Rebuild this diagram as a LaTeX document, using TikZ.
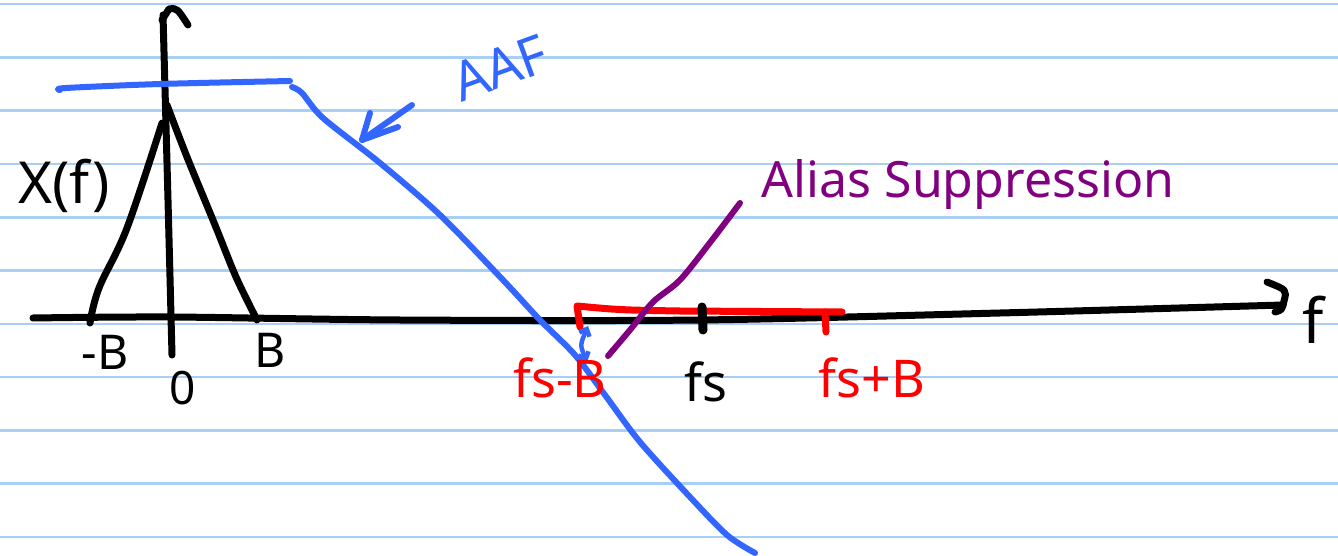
\documentclass[tikz,border=0pt]{standalone}
\usepackage{fontspec}
\setmainfont{Noto Sans}
\usetikzlibrary{arrows.meta}
\definecolor{paper}{HTML}{A9CFF4}
\definecolor{penblue}{HTML}{3366FF}
\definecolor{penred}{HTML}{FF0000}
\definecolor{penpurple}{HTML}{800080}
\tikzset{
  ink/.style={line width=7pt, line cap=round, line join=round},
  bluepen/.style={ink, draw=penblue, line width=6pt},
  redpen/.style={ink, draw=penred},
  purplepen/.style={ink, draw=penpurple, line width=6pt},
  rule/.style={draw=paper, line width=2.6pt},
  hand/.style={inner sep=0pt, font=\fontsize{#1}{#1}\selectfont},
}
\begin{document}
\begin{tikzpicture}[x=1pt,y=-1pt]
\useasboundingbox[fill=white] (0,0) rectangle (1338,556);
% ruled paper
\foreach \k in {0,...,10} {
  \draw[rule] (0,{4+53.3*\k}) -- (1338,{4+53.3*\k});
}
% named points
\coordinate (yb) at (172,355);
\coordinate (yt) at (163,15);
\coordinate (xl) at (33,318);
\coordinate (xr) at (1283,305);
% axes
\draw[ink] plot[smooth, tension=0.5] coordinates {(yb) (168,200) (yt)};
\draw[ink] (162,20) -- (169,9) .. controls (177,8) .. (188,25);
\draw[ink] plot[smooth, tension=0.5] coordinates {(xl) (170,317) (400,320) (700,320) (1000,313) (xr)};
\draw[ink] (1267,282) .. controls (1287,290) .. (1284,301) .. controls (1282,310) .. (1275,312);
% spectrum triangle
\draw[ink] plot[smooth, tension=0.6] coordinates {(90,323) (99,288) (127,228) (162,123)};
\draw[ink] plot[smooth, tension=0.5] coordinates {(167,105) (187,157) (215,225) (236,277) (257,320)};
% AAF response
\draw[bluepen] plot[smooth, tension=0.5] coordinates {(60,90) (66,88) (160,84) (290,81)};
\draw[bluepen] plot[smooth, tension=0.5] coordinates {(292,87) (302,93) (323,118) (380,163) (440,215) (503,280) (540,320) (575,355) (605,395) (640,442) (690,497) (727,535) (755,553)};
% arrow to AAF curve
\coordinate (aafa) at (412,105);
\coordinate (aafb) at (362,140);
\draw[bluepen] (aafa) -- (aafb);
\draw[bluepen] (370,113) -- (aafb) -- (398,127);
% red bracket
\draw[redpen] (580,327) -- (577,306) .. controls (620,310) .. (680,311) -- (842,312);
\draw[redpen] (825,312) -- (826,332);
% fs tick
\draw[ink, line width=9pt] (702,307) -- (703,330);
% blue small double arrow
\draw[penblue, line width=4.5pt, line cap=round, {Straight Barb[length=6pt,width=11pt]}-{Straight Barb[length=6pt,width=11pt]}] (588,326) .. controls (580,345) .. (587,362);
% purple pointer
\draw[purplepen] plot[smooth, tension=0.5] coordinates {(608,356) (630,330) (653,302) (680,280) (712,240) (740,203)};
% labels
\node[hand=58] (lX) at (64,186) {X(f)};
\node[hand=48] (lmB) at (105,352) {-B};
\node[hand=46] (l0) at (183,388) {0};
\node[hand=48] (lB) at (270,350) {B};
\node[hand=52, text=penred] (lfsmB) at (560,378) {fs-B};
\node[hand=52] (lfs) at (706,382) {fs};
\node[hand=52, text=penred] (lfspB) at (872,378) {fs+B};
\node[hand=54, text=penblue, rotate=20] (lAAF) at (500,68) {AAF};
\node[hand=50, text=penpurple] (lAS) at (968,185) {Alias Suppression};
\node[hand=62] (lf) at (1313,320) {f};
\end{tikzpicture}
\end{document}
